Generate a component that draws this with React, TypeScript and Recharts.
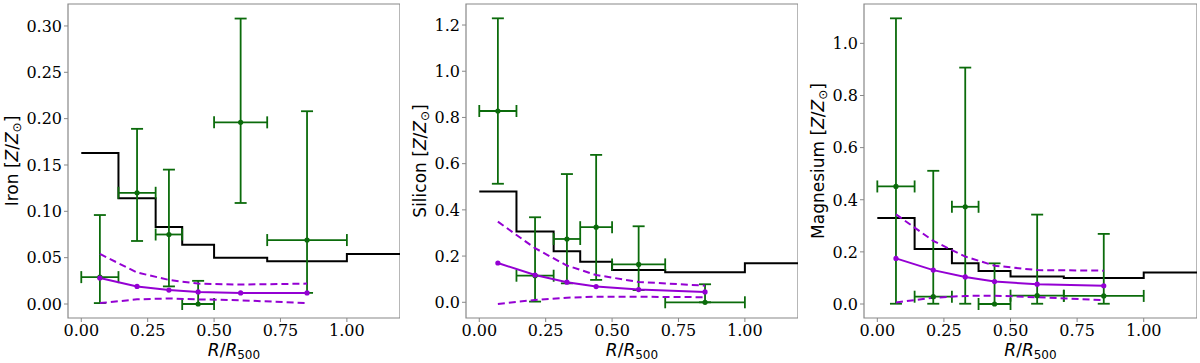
import React from "react";
import { ComposedChart, Line, Scatter, ErrorBar, XAxis, YAxis, ReferenceArea } from "recharts";

// radial bins (R/R500) and the bin centres of the measurements
const binEdges = [0, 0.14, 0.28, 0.38, 0.5, 0.7, 1.0, 1.2];
const radii = [0.07, 0.21, 0.33, 0.44, 0.6, 0.85];
const xTicks = [0, 0.25, 0.5, 0.75, 1.0];

// Iron
const ironStep = [0.163, 0.114, 0.083, 0.064, 0.05, 0.046, 0.054];
const ironObs = [0.029, 0.12, 0.075, 0.0, 0.196, 0.069];
const ironObsLow = [0.001, 0.068, 0.019, 0.0, 0.109, 0.012];
const ironObsHigh = [0.096, 0.189, 0.145, 0.025, 0.308, 0.208];
const ironModel = [0.028, 0.019, 0.015, 0.013, 0.012, 0.012];
const ironModelHigh = [0.054, 0.034, 0.026, 0.022, 0.021, 0.022];
const ironModelLow = [0.001, 0.005, 0.006, 0.005, 0.004, 0.001];
const ironTicks = [0, 0.05, 0.1, 0.15, 0.2, 0.25, 0.3];

// Silicon
const siliconStep = [0.479, 0.306, 0.221, 0.175, 0.14, 0.13, 0.169];
const siliconObs = [0.828, 0.115, 0.274, 0.325, 0.164, 0.0];
const siliconObsLow = [0.513, 0.003, 0.082, 0.097, 0.053, 0.0];
const siliconObsHigh = [1.229, 0.368, 0.555, 0.638, 0.329, 0.078];
const siliconModel = [0.17, 0.118, 0.087, 0.068, 0.055, 0.045];
const siliconModelHigh = [0.349, 0.234, 0.159, 0.118, 0.088, 0.072];
const siliconModelLow = [-0.007, 0.01, 0.02, 0.024, 0.024, 0.022];
const siliconTicks = [0, 0.2, 0.4, 0.6, 0.8, 1.0, 1.2];

// Magnesium
const magnesiumStep = [0.33, 0.211, 0.156, 0.127, 0.106, 0.1, 0.121];
const magnesiumObs = [0.451, 0.028, 0.373, 0.0, 0.032, 0.031];
const magnesiumObsLow = [0.001, 0.001, 0.001, 0.0, 0.001, 0.001];
const magnesiumObsHigh = [1.096, 0.511, 0.907, 0.156, 0.343, 0.269];
const magnesiumModel = [0.175, 0.13, 0.104, 0.086, 0.076, 0.07];
const magnesiumModelHigh = [0.344, 0.242, 0.182, 0.147, 0.13, 0.128];
const magnesiumModelLow = [0.006, 0.024, 0.031, 0.032, 0.026, 0.015];
const magnesiumTicks = [0, 0.2, 0.4, 0.6, 0.8, 1.0];

const GREEN = "#0b6b0b";
const PURPLE = "#9400d3";
const FRAME = "#888";
const X_DOMAIN: [number, number] = [-0.05, 1.2];
const AXIS_W = 70;
const SERIF = "'DejaVu Serif', 'Liberation Serif', serif";

interface PanelProps {
  name: string;
  left: number;
  width: number;
  labelX: number;
  yDomain: [number, number];
  yTicks: number[];
  digits: number;
  step: number[];
  obs: number[];
  obsLow: number[];
  obsHigh: number[];
  model: number[];
  modelHigh: number[];
  modelLow: number[];
}

const Dot = (props: any) => <circle cx={props.cx} cy={props.cy} r={2.6} fill={GREEN} />;

// tick labels in serif, as in the original figure
const makeTick = (fmt: (v: number) => string, axis: "x" | "y") => (props: any) => {
  const { x, y, payload } = props;
  return (
    <text
      x={x}
      y={y}
      dy={axis === "x" ? "0.75em" : "0.36em"}
      textAnchor={axis === "x" ? "middle" : "end"}
      style={{ fontFamily: SERIF, fontSize: "16px", fill: "#000" }}
    >
      {fmt(payload.value)}
    </text>
  );
};

const Panel = (p: PanelProps) => {
  const stepData = binEdges.map((x, i) => ({ x, y: p.step[Math.min(i, p.step.length - 1)] }));
  const obsData = radii.map((x, i) => ({
    x,
    y: p.obs[i],
    ex: [x - binEdges[i], binEdges[i + 1] - x],
    ey: [p.obs[i] - p.obsLow[i], p.obsHigh[i] - p.obs[i]],
  }));
  const line = (vals: number[]) => radii.map((x, i) => ({ x, y: vals[i] }));
  const centre = p.left + p.width / 2;

  return (
    <>
      <div style={{ position: "absolute", left: p.left - AXIS_W, top: 0 }}>
        <ComposedChart width={p.width + AXIS_W} height={363} margin={{ top: 4, right: 0, bottom: 0, left: 0 }}>
          <XAxis
            dataKey="x"
            type="number"
            domain={X_DOMAIN}
            ticks={xTicks}
            height={45}
            axisLine={false}
            tickSize={4}
            tickMargin={2}
            tickLine={{ stroke: FRAME }}
            tick={makeTick((v) => v.toFixed(2), "x")}
            allowDataOverflow
          />
          <YAxis
            type="number"
            domain={p.yDomain}
            ticks={p.yTicks}
            width={AXIS_W}
            axisLine={false}
            tickSize={4}
            tickMargin={2}
            tickLine={{ stroke: FRAME }}
            tick={makeTick((v) => v.toFixed(p.digits), "y")}
            allowDataOverflow
          />
          <Line data={stepData} dataKey="y" type="stepAfter" stroke="#000" strokeWidth={2} dot={false} isAnimationActive={false} />
          <Scatter data={obsData} dataKey="y" shape={Dot} isAnimationActive={false}>
            <ErrorBar dataKey="ey" direction="y" width={6} stroke={GREEN} strokeWidth={1.8} />
            <ErrorBar dataKey="ex" direction="x" width={6} stroke={GREEN} strokeWidth={1.8} />
          </Scatter>
          <Line data={line(p.modelHigh)} dataKey="y" stroke={PURPLE} strokeWidth={2} strokeDasharray="7 4" dot={false} isAnimationActive={false} />
          <Line data={line(p.modelLow)} dataKey="y" stroke={PURPLE} strokeWidth={2} strokeDasharray="7 4" dot={false} isAnimationActive={false} />
          <Line data={line(p.model)} dataKey="y" stroke={PURPLE} strokeWidth={2} dot={{ r: 1.6, fill: PURPLE, stroke: PURPLE }} isAnimationActive={false} />
          <ReferenceArea x1={X_DOMAIN[0]} x2={X_DOMAIN[1]} y1={p.yDomain[0]} y2={p.yDomain[1]} fill="none" stroke={FRAME} strokeWidth={1.2} ifOverflow="visible" />
        </ComposedChart>
      </div>
      <div
        style={{
          position: "absolute",
          left: p.labelX,
          top: 161,
          transform: "translate(-50%, -50%) rotate(-90deg)",
          whiteSpace: "nowrap",
          fontFamily: "DejaVu Sans",
          fontSize: 17,
          lineHeight: "20px",
        }}
      >
        {p.name} [<i>Z</i>/<i>Z</i><sub style={{ fontSize: 12, verticalAlign: "-3px" }}>⊙</sub>]
      </div>
      <div
        style={{
          position: "absolute",
          left: centre,
          top: 340,
          transform: "translateX(-50%)",
          whiteSpace: "nowrap",
          fontFamily: "DejaVu Sans",
          fontSize: 17,
          lineHeight: "20px",
        }}
      >
        <i>R</i>/<i>R</i><sub style={{ fontSize: 12, verticalAlign: "-3px" }}>500</sub>
      </div>
    </>
  );
};

export default function App() {
  return (
    <div style={{ position: "absolute", left: 0, top: 0, width: 1200, height: 363, background: "#fff" }}>
      <Panel name="Iron" left={68} width={332} labelX={14} yDomain={[-0.0151, 0.3237]} yTicks={ironTicks} digits={2}
        step={ironStep} obs={ironObs} obsLow={ironObsLow} obsHigh={ironObsHigh}
        model={ironModel} modelHigh={ironModelHigh} modelLow={ironModelLow} />
      <Panel name="Silicon" left={466} width={332} labelX={422} yDomain={[-0.068, 1.291]} yTicks={siliconTicks} digits={1}
        step={siliconStep} obs={siliconObs} obsLow={siliconObsLow} obsHigh={siliconObsHigh}
        model={siliconModel} modelHigh={siliconModelHigh} modelLow={siliconModelLow} />
      <Panel name="Magnesium" left={864} width={333} labelX={820} yDomain={[-0.0537, 1.151]} yTicks={magnesiumTicks} digits={1}
        step={magnesiumStep} obs={magnesiumObs} obsLow={magnesiumObsLow} obsHigh={magnesiumObsHigh}
        model={magnesiumModel} modelHigh={magnesiumModelHigh} modelLow={magnesiumModelLow} />
    </div>
  );
}
